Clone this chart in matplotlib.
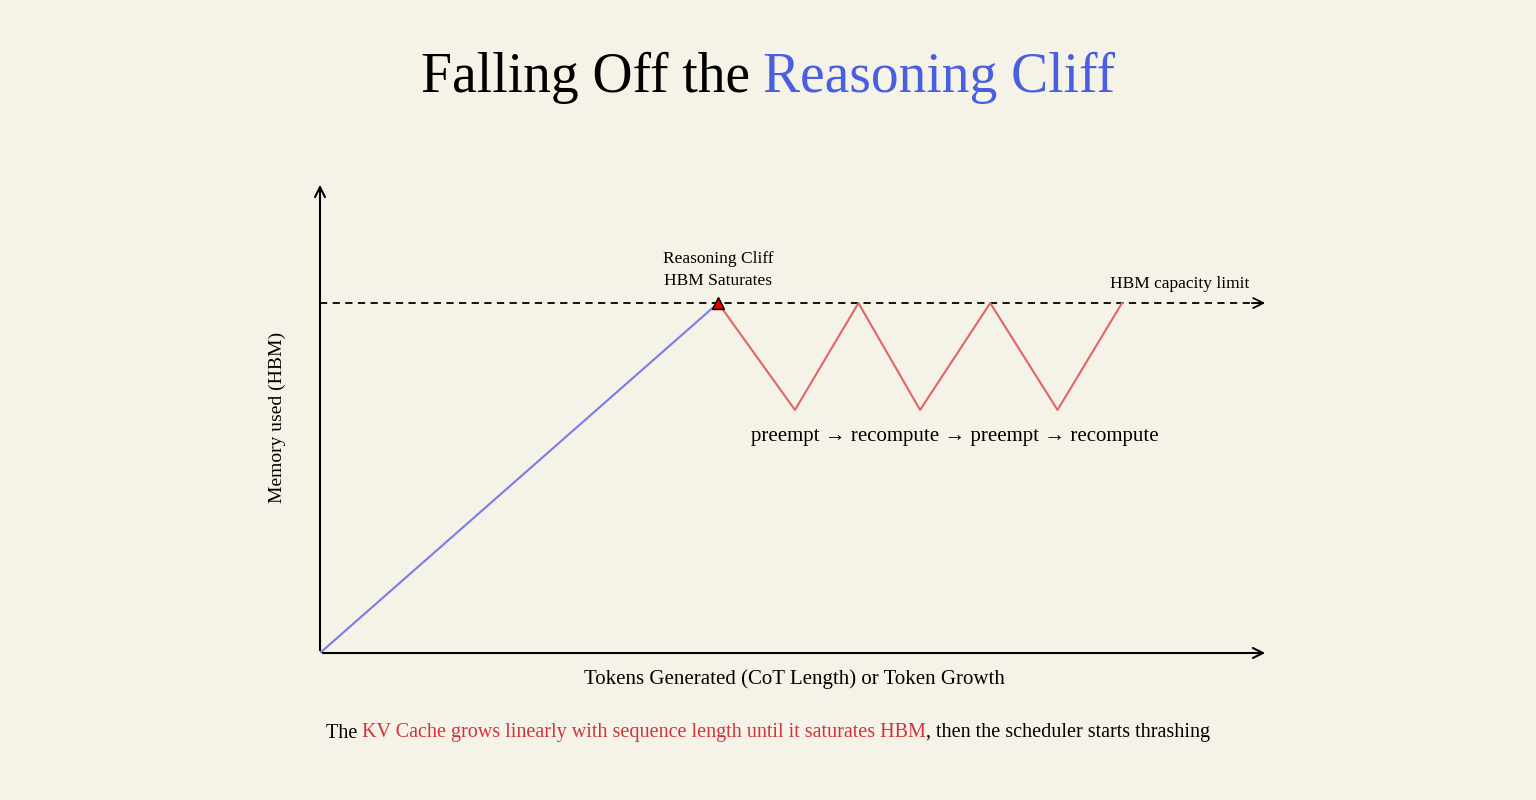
import matplotlib
matplotlib.use("Agg")
import matplotlib.pyplot as plt

# data (x: token growth 0-100, y: memory 0-100)
cap = 74.3
growth_x = [0, 42]
growth_y = [0, cap]
thrash_x = [42, 50.1, 56.8, 63.3, 70.7, 77.8, 84.6]
thrash_y = [cap, 51.6, cap, 51.6, cap, 51.6, cap]

bg = "#F5F2E8"
blue = "#7B7BE8"
red = "#E06666"
font = "Liberation Serif"

fig = plt.figure(figsize=(15.36, 8), dpi=100, facecolor=bg)
ax = fig.add_axes([320/1536, 147/800, 948/1536, 471/800])
ax.set_facecolor(bg)
ax.set_xlim(0, 100)
ax.set_ylim(0, 100)
ax.axis("off")

arrow = dict(arrowstyle="->", color="black", lw=1.5, mutation_scale=18)
ax.annotate("", xy=(100, 0), xytext=(0, 0), arrowprops=arrow, annotation_clip=False)
ax.annotate("", xy=(100, 100), xytext=(0, 0), arrowprops=dict(arrow, lw=0), annotation_clip=False)
ax.annotate("", xy=(0, 100), xytext=(0, 0), arrowprops=arrow, annotation_clip=False)
ax.plot([0, 99.5], [cap, cap], ls="--", color="black", lw=1.3, dashes=(4, 3))
ax.annotate("", xy=(100, cap), xytext=(98, cap),
            arrowprops=dict(arrowstyle="->", color="black", lw=1.3, mutation_scale=18),
            annotation_clip=False)

ax.plot(growth_x, growth_y, color=blue, lw=1.5)
ax.plot(thrash_x, thrash_y, color=red, lw=1.5)
ax.plot([42], [cap], marker="^", color="#E00000", markeredgecolor="black", markersize=9)

ax.text(42, cap + 3, "Reasoning Cliff\nHBM Saturates", ha="center", va="bottom",
        fontsize=12.5, family=font, linespacing=1.5)
ax.text(98, cap + 2.3, "HBM capacity limit", ha="right", va="bottom", fontsize=12.5, family=font)
ax.text(67, 46, "preempt \u2192 recompute \u2192 preempt \u2192 recompute", ha="center", va="center",
        fontsize=15, family=font)
ax.text(-4.5, 50, "Memory used (HBM)", rotation=90, ha="center", va="center", fontsize=14, family=font)
ax.text(50, -5.5, "Tokens Generated (CoT Length) or Token Growth", ha="center", va="center",
        fontsize=15, family=font)

# multi-colour title and caption
fig.canvas.draw()
r = fig.canvas.get_renderer()

def line(parts, y, size):
    texts = [fig.text(0, y, s, color=c, fontsize=size, family=font, va="center") for s, c in parts]
    widths = [t.get_window_extent(r).width / fig.bbox.width for t in texts]
    x = 0.5 - sum(widths) / 2
    for t, w in zip(texts, widths):
        t.set_x(x)
        x += w

line([("Falling Off the ", "black"), ("Reasoning Cliff", "#4A5FE0")], 1 - 78/800, 40)
line([("The ", "black"),
      ("KV Cache grows linearly with sequence length until it saturates HBM", "#D0343A"),
      (", then the scheduler starts thrashing", "black")], 1 - 733/800, 14.5)

fig.savefig("out.png", facecolor=bg)
